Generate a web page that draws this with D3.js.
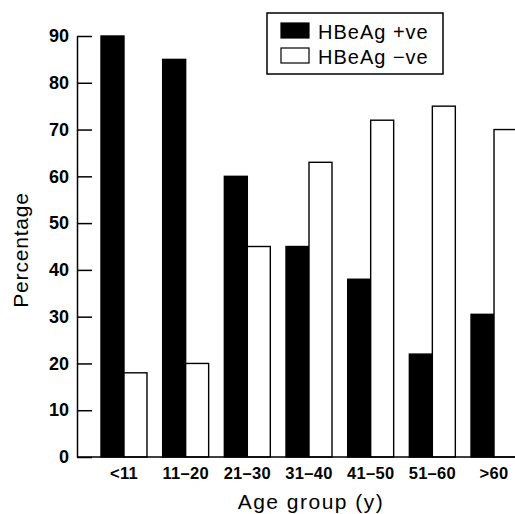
<!DOCTYPE html>
<html>
<head>
<meta charset="utf-8">
<script src="https://cdn.jsdelivr.net/npm/d3@7"></script>
<style>
  html, body { margin: 0; padding: 0; background: #fff; overflow: hidden; }
  svg { display: block; }
</style>
</head>
<body>
<script>
const categories = ["<11", "11\u201320", "21\u201330", "31\u201340", "41\u201350", "51\u201360", ">60"];
const seriesNames = ["HBeAg +ve", "HBeAg \u2212ve"];
const positiveValues = [90, 85, 60, 45, 38, 22, 30.5];
const negativeValues = [18, 20, 45, 63, 72, 75, 70];
const yTicks = [0, 10, 20, 30, 40, 50, 60, 70, 80, 90];

const W = 515, H = 514;
const svg = d3.select("body").append("svg").attr("width", W).attr("height", H);

const fontFamily = "'Liberation Sans', Arial, Helvetica, sans-serif";
const axisX = 77, baseY = 457, topY = 36;

const y = d3.scaleLinear().domain([0, 90]).range([baseY, topY]);
const x = d3.scaleBand().domain(categories).range([101, 517]).paddingInner(0.2545).paddingOuter(0);
const xs = d3.scaleBand().domain([0, 1]).range([0, x.bandwidth()]).padding(0);

const data = categories.map((c, i) => ({ cat: c, vals: [positiveValues[i], negativeValues[i]] }));
const fills = ["#000", "#fff"];

// bars
const g = svg.append("g");
g.selectAll("g.grp").data(data).join("g")
  .attr("transform", d => `translate(${x(d.cat)},0)`)
  .selectAll("rect").data(d => d.vals.map((v, k) => ({ v, k }))).join("rect")
  .attr("x", d => xs(d.k))
  .attr("y", d => y(d.v))
  .attr("width", xs.bandwidth())
  .attr("height", d => y(0) - y(d.v))
  .attr("fill", d => fills[d.k])
  .attr("stroke", "#000")
  .attr("stroke-width", 1.4);

// y axis
const yAxis = d3.axisLeft(y).tickValues(yTicks).tickSizeInner(-15).tickSizeOuter(0).tickPadding(8);
const ya = svg.append("g").attr("transform", `translate(${axisX},0)`).call(yAxis);
ya.select(".domain").attr("stroke", "#000").attr("stroke-width", 1.5);
ya.selectAll(".tick line").attr("stroke", "#000").attr("stroke-width", 1.5);
ya.selectAll(".tick text").attr("font-family", fontFamily).attr("font-size", 18)
  .attr("font-weight", "bold").attr("fill", "#000");

// x axis
const xAxis = d3.axisBottom(x).tickSize(0).tickPadding(10);
const xa = svg.append("g").attr("transform", `translate(0,${baseY})`).call(xAxis);
xa.select(".domain").remove();
xa.selectAll(".tick text").attr("font-family", fontFamily).attr("font-size", 16.5)
  .attr("font-weight", "bold").attr("letter-spacing", 0.3).attr("fill", "#000");
svg.append("line").attr("x1", axisX).attr("x2", W).attr("y1", baseY).attr("y2", baseY)
  .attr("stroke", "#000").attr("stroke-width", 1.5);

// axis titles
svg.append("text").attr("x", 311).attr("y", 509).attr("text-anchor", "middle")
  .attr("font-family", fontFamily).attr("font-size", 21).attr("letter-spacing", 1.5)
  .attr("fill", "#000")
  .text("Age group (y)");
svg.append("text").attr("transform", "translate(28,250) rotate(-90)").attr("text-anchor", "middle")
  .attr("font-family", fontFamily).attr("font-size", 21).attr("letter-spacing", 0.8)
  .attr("fill", "#000")
  .text("Percentage");

// legend
const lg = svg.append("g");
lg.append("rect").attr("x", 267).attr("y", 13).attr("width", 176).attr("height", 61)
  .attr("fill", "#fff").attr("stroke", "#000").attr("stroke-width", 1.5);
seriesNames.forEach((name, k) => {
  lg.append("rect").attr("x", 281).attr("y", 23 + k * 25).attr("width", 28).attr("height", 15)
    .attr("fill", fills[k]).attr("stroke", "#000").attr("stroke-width", 1.2);
  lg.append("text").attr("x", 318).attr("y", 38.5 + k * 25)
    .attr("font-family", fontFamily).attr("font-size", 20).attr("letter-spacing", 1)
    .attr("fill", "#000")
    .text(name);
});
</script>
</body>
</html>
